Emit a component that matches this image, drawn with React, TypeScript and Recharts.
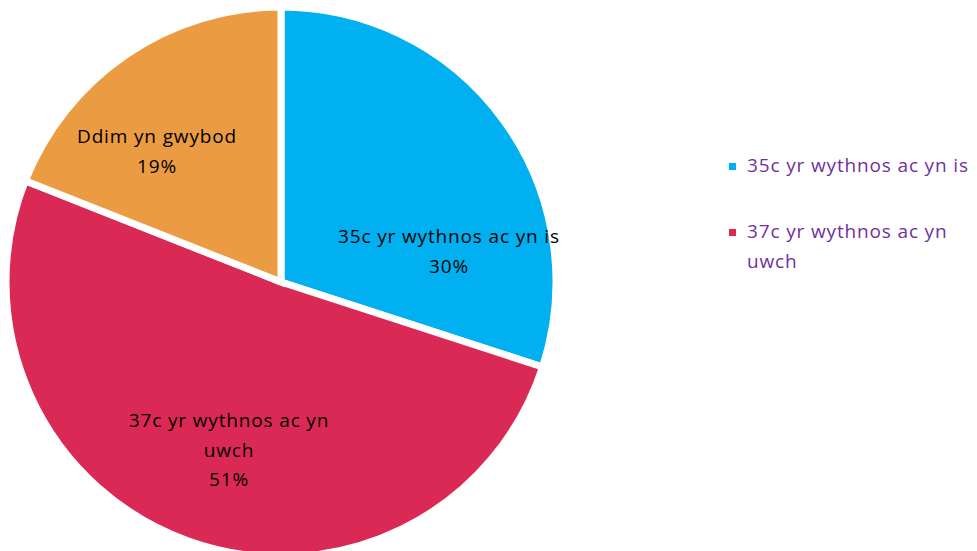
import React from "react";
import { PieChart, Pie, Cell, Legend } from "recharts";

const categories = ["35c yr wythnos ac yn is", "37c yr wythnos ac yn uwch", "Ddim yn gwybod"];
const values = [30, 51, 19];
const colors = ["#00B0F0", "#DB2955", "#EB9C43"];
// label lines (wrapped as in the reference) and legend entries shown
const labelLines = [["35c yr wythnos ac yn is", "30%"], ["37c yr wythnos ac yn", "uwch", "51%"], ["Ddim yn gwybod", "19%"]];
const legendLines = [["35c yr wythnos ac yn is"], ["37c yr wythnos ac yn", "uwch"]];

const data = categories.map((name, i) => ({ name, value: values[i] }));

// label placement: [offset x from centre, offset y of first baseline from centre]
const labelPos = [
  [168, -39],
  [-52, 145],
  [-124, -139],
];

const FONT = "'Open Sans', sans-serif";
const FS = 19;
const LS = 0.85;

const renderLabel = (props: any) => {
  const { cx, cy, index } = props;
  const [dx, dy] = labelPos[index];
  return (
    <text x={cx + dx} y={cy + dy} textAnchor="middle" fill="#000" fontFamily={FONT} fontSize={FS} letterSpacing={LS}>
      {labelLines[index].map((l, j) => (
        <tspan key={j} x={cx + dx} dy={j === 0 ? 0 : 29.5}>
          {l}
        </tspan>
      ))}
    </text>
  );
};

const renderLegend = () => (
  <div style={{ fontFamily: FONT, fontSize: FS, letterSpacing: LS, color: "#7030A0" }}>
    {legendLines.map((lines, i) => (
      <div key={i} style={{ position: "relative", paddingLeft: 18, marginBottom: i === 0 ? 36 : 0, lineHeight: "30px" }}>
        <span style={{ position: "absolute", left: 0, top: 12.5, width: 7, height: 7, background: colors[i] }} />
        {lines.map((l, j) => (
          <div key={j} style={{ whiteSpace: "nowrap" }}>{l}</div>
        ))}
      </div>
    ))}
  </div>
);

export default function App() {
  return (
    <div style={{ position: "fixed", left: 0, top: 0, width: 977, height: 551, background: "#fff" }}>
      <PieChart width={977} height={551} margin={{ top: 0, right: 0, bottom: 0, left: 0 }}>
        <Pie
          data={data}
          dataKey="value"
          nameKey="name"
          cx={281}
          cy={282}
          outerRadius={275}
          startAngle={90}
          endAngle={-270}
          stroke="#fff"
          strokeWidth={7}
          label={renderLabel}
          labelLine={false}
          isAnimationActive={false}
        >
          {data.map((d, i) => (
            <Cell key={d.name} fill={colors[i]} />
          ))}
        </Pie>
        <Legend
          content={renderLegend}
          wrapperStyle={{ position: "absolute", left: 729, top: 150, width: 245 }}
        />
      </PieChart>
    </div>
  );
}
